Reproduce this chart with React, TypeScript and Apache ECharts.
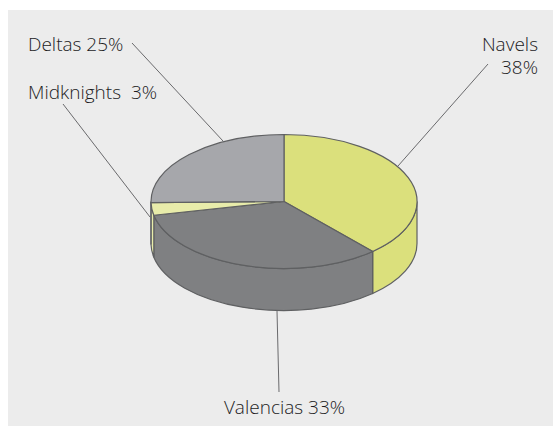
import React, { useEffect, useRef } from "react";
import * as echarts from "echarts";

const categories = ["Navels", "Valencias", "Midknights", "Deltas"];
const shares = [38, 33, 3, 25];
const sliceColors = ["#dbe07c", "#7f8082", "#e8ecaa", "#a6a7ab"];

const CX = 284, CY = 201.5, RX = 133, RY = 67, DEPTH = 42;
const EDGE = "#5f6062";
const FONT = "'Open Sans', Arial, sans-serif";
const TEXT = "#1c1c1e";

const total = shares.reduce((a, b) => a + b, 0);
const starts: number[] = [];
shares.reduce((acc, v, i) => { starts[i] = acc; return acc + (v / total) * 360; }, 0);

const pt = (deg: number, dy = 0) => {
  const r = (deg * Math.PI) / 180;
  return [CX + RX * Math.sin(r), CY - RY * Math.cos(r) + dy];
};

const sideItem = (params: any, api: any) => {
  const idx = params.dataIndex;
  const a0 = Math.max(starts[idx], 90);
  const a1 = Math.min(starts[idx] + (api.value(0) / total) * 360, 270);
  if (a1 <= a0) return { type: "group", children: [] };
  const p0 = pt(a0), p1 = pt(a1), b1 = pt(a1, DEPTH), b0 = pt(a0, DEPTH);
  const d = `M${p0[0]} ${p0[1]}A${RX} ${RY} 0 0 1 ${p1[0]} ${p1[1]}L${b1[0]} ${b1[1]}A${RX} ${RY} 0 0 0 ${b0[0]} ${b0[1]}Z`;
  return {
    type: "path",
    shape: { pathData: d },
    style: { fill: sliceColors[idx], stroke: EDGE, lineWidth: 1.2 },
  };
};

const topItem = (params: any, api: any) => {
  const idx = params.dataIndex;
  const a0 = starts[idx];
  const a1 = a0 + (api.value(0) / total) * 360;
  const p0 = pt(a0), p1 = pt(a1);
  const large = a1 - a0 > 180 ? 1 : 0;
  const d = `M${CX} ${CY}L${p0[0]} ${p0[1]}A${RX} ${RY} 0 ${large} 1 ${p1[0]} ${p1[1]}Z`;
  return {
    type: "path",
    shape: { pathData: d },
    style: { fill: sliceColors[idx], stroke: EDGE, lineWidth: 1.2 },
  };
};

const leader = (x1: number, y1: number, x2: number, y2: number) => ({
  type: "line",
  shape: { x1, y1, x2, y2 },
  style: { stroke: "#6a6a6c", lineWidth: 1 },
});

const label = (x: number, y: number, text: string, textAlign: string) => ({
  type: "text",
  x,
  y,
  style: { text, fill: TEXT, font: `300 19px ${FONT}`, textAlign, textVerticalAlign: "middle", lineHeight: 23 },
});

export default function App() {
  const ref = useRef<HTMLDivElement>(null);
  useEffect(() => {
    const chart = echarts.init(ref.current!, null, { renderer: "svg" });
    chart.setOption({
      animation: false,
      graphic: [
        { type: "rect", z: -1, shape: { x: 8, y: 10, width: 545, height: 416 }, style: { fill: "#ececec" } },
        leader(132, 43, 223, 141),
        leader(63, 104, 150, 217),
        leader(488, 64, 398, 166),
        leader(277, 311, 279, 392),
        label(28, 44, `${categories[3]} ${shares[3]}%`, "left"),
        label(28, 92, `${categories[2]}  ${shares[2]}%`, "left"),
        label(538, 55.5, `${categories[0]}\n${shares[0]}%`, "right"),
        label(284.5, 407, `${categories[1]} ${shares[1]}%`, "center"),
      ],
      series: [
        { type: "custom", coordinateSystem: "none", z: 2, data: shares.map((v) => [v]), renderItem: sideItem },
        { type: "custom", coordinateSystem: "none", z: 3, data: shares.map((v) => [v]), renderItem: topItem },
      ],
    });
    return () => chart.dispose();
  }, []);
  return (
    <div
      ref={ref}
      style={{ position: "absolute", left: 0, top: 0, width: 553, height: 426, background: "#fff" }}
    />
  );
}
